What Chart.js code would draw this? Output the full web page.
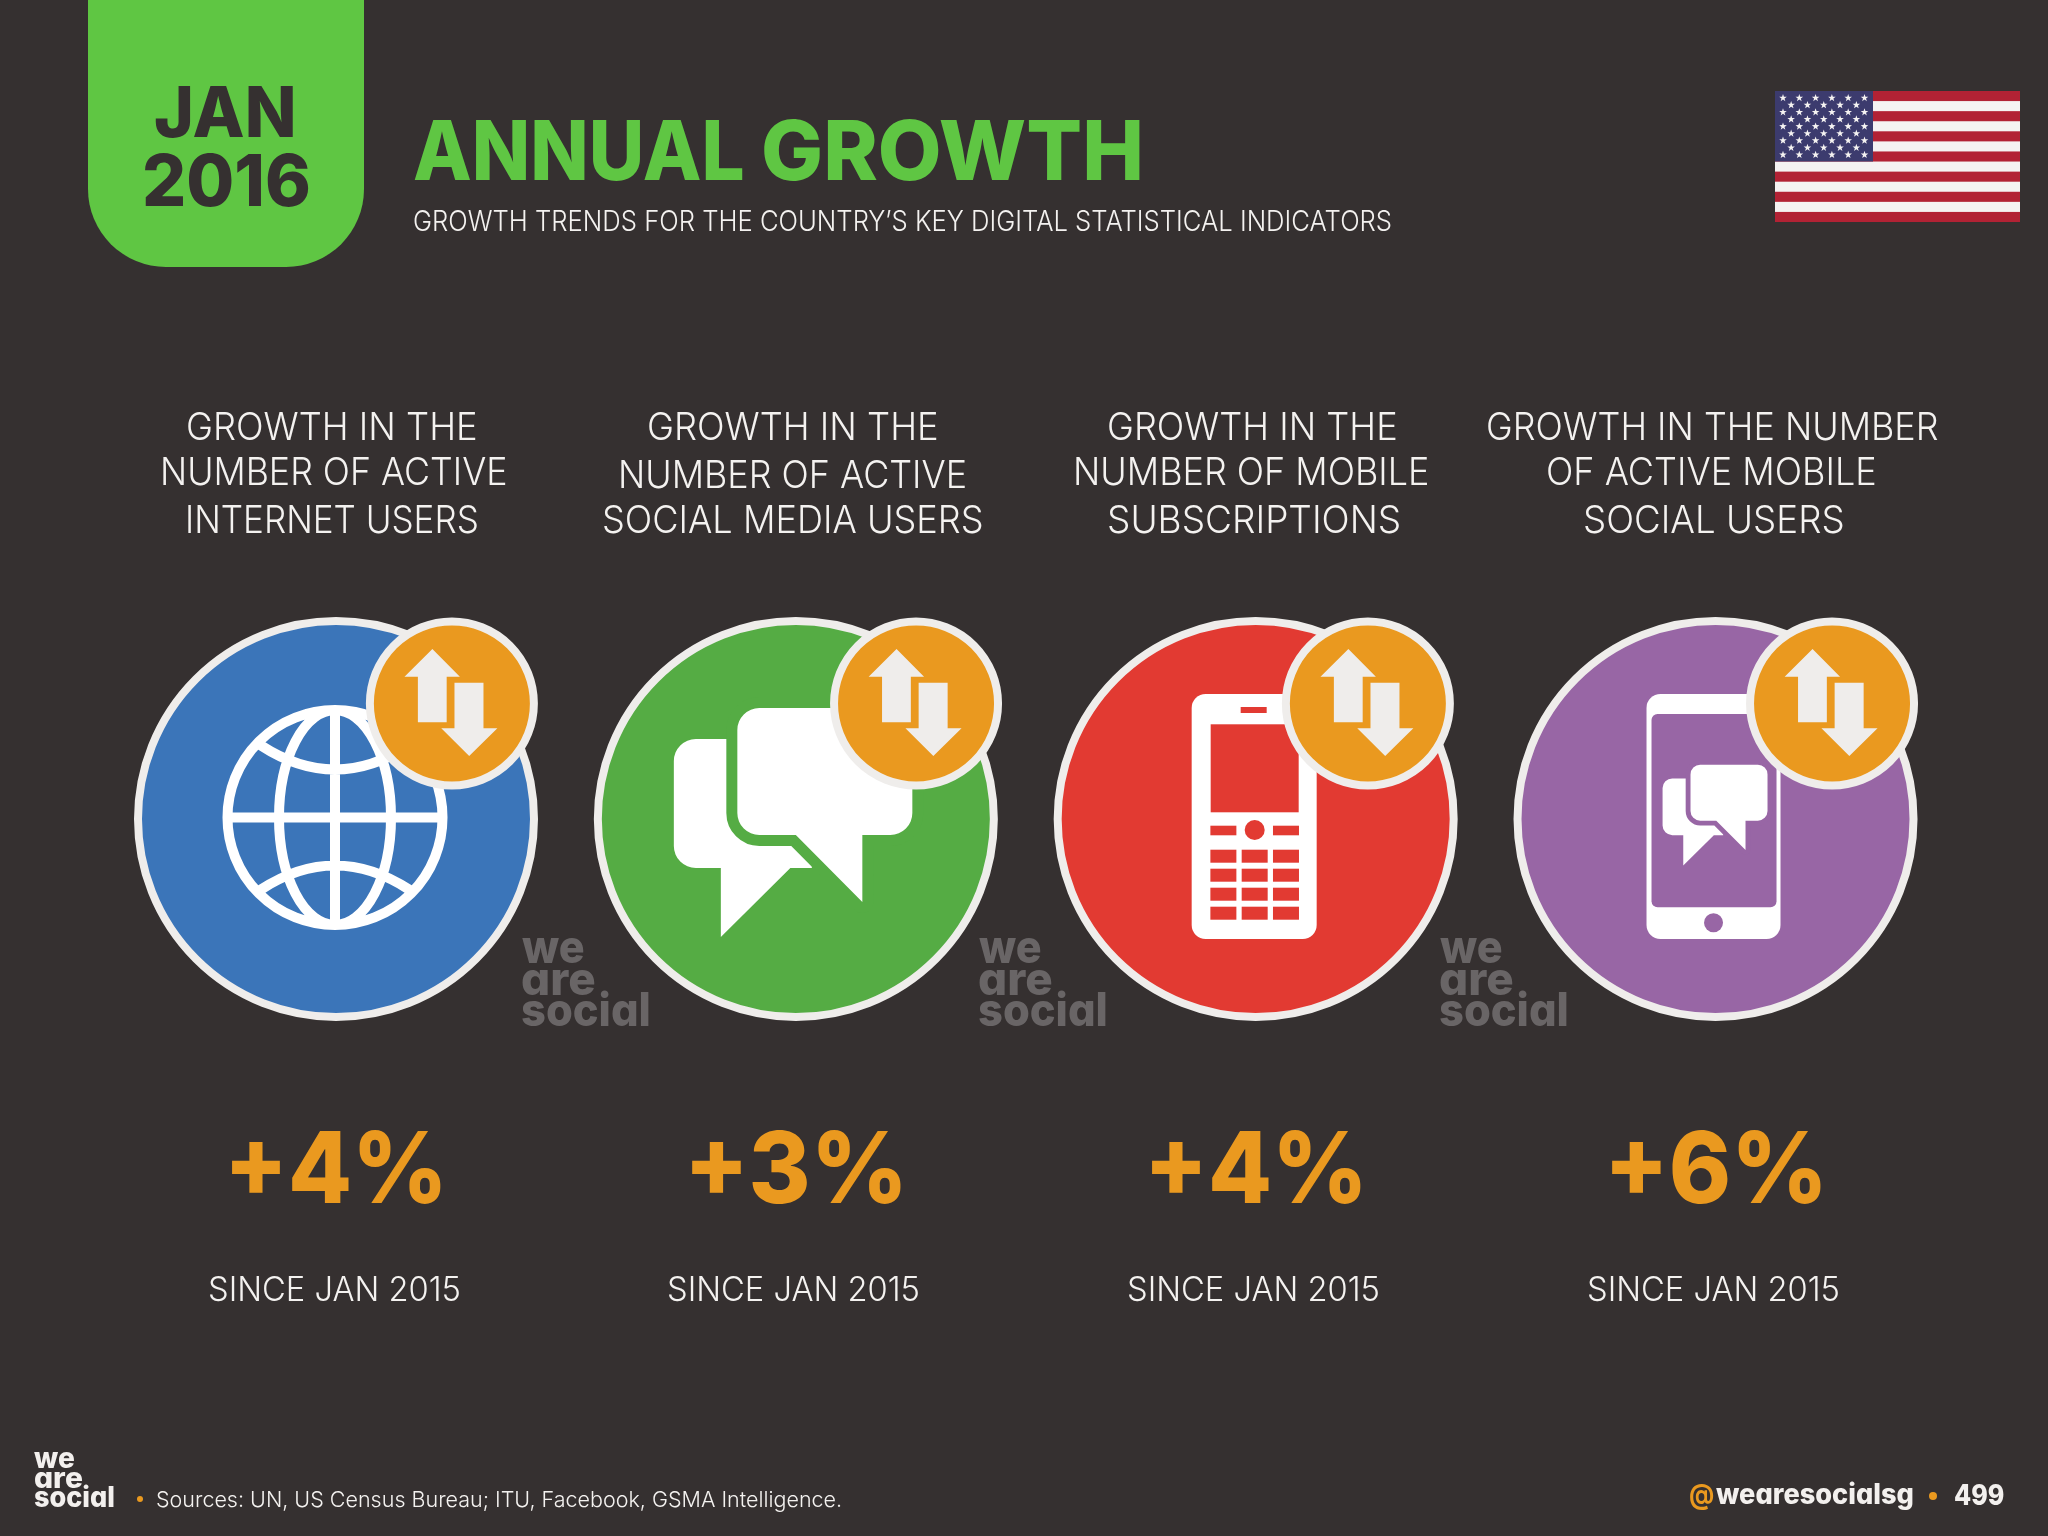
<!DOCTYPE html>
<html>
<head>
<meta charset="utf-8">
<title>Annual Growth</title>
<script src="https://cdn.jsdelivr.net/npm/chart.js@4"></script>
<style>
    html, body { margin: 0; padding: 0; background: #353030; }
    #page { position: relative; width: 2048px; height: 1536px; overflow: hidden; background: #353030; }
    #growth-chart { position: absolute; left: 0; top: 0; }
    #date-tab { position: absolute; left: 88px; top: -90px; width: 276px; height: 357px; background: #5fc643; border-radius: 78px; }
    #flag { position: absolute; left: 1775px; top: 91px; }
    .txt { position: absolute; white-space: nowrap; transform-origin: 0 0; }
</style>
</head>
<body>
<div id="page">
    <div id="date-tab"></div>
    <svg id="flag" width="245" height="131" viewBox="0 0 245 131"></svg>
    <canvas id="growth-chart" width="2048" height="1536" style="width:2048px;height:1536px"></canvas>
</div>
<script>
// Chart data
const indicators = [
    ['GROWTH IN THE', 'NUMBER OF ACTIVE', 'INTERNET USERS'],
    ['GROWTH IN THE', 'NUMBER OF ACTIVE', 'SOCIAL MEDIA USERS'],
    ['GROWTH IN THE', 'NUMBER OF MOBILE', 'SUBSCRIPTIONS'],
    ['GROWTH IN THE NUMBER', 'OF ACTIVE MOBILE', 'SOCIAL USERS']
];
const growthValues = [4, 3, 4, 6];
const sinceLabels = ['SINCE JAN 2015', 'SINCE JAN 2015', 'SINCE JAN 2015', 'SINCE JAN 2015'];
const columnIndex = [0, 1, 2, 3];

// Colours
const circleColors = ['#3b75b9', '#55ac44', '#e23a32', '#9866a5'];
const orange = '#ea991f';
const ringColor = '#efedeb';
const bgColor = '#353030';

const LIGHT = '"Inter", "Lato", sans-serif';
const HEAVY = '"Inter", "Liberation Sans", sans-serif';

// Badge offset from each big circle, in axis units
const badgeDx = [0.252, 0.2614, 0.244, 0.2534];
const badgeDy = 0.572;

const measure = document.createElement('canvas').getContext('2d');
const page = document.getElementById('page');

// Put a line of text so that its ink runs from x0 to x1 and it sits on the baseline
function addText(str, x0, x1, baseline, size, weight, color, family, extraCss) {
    const font = `${weight} ${size}px ${family}`;
    measure.font = font;
    const m = measure.measureText(str);
    const ascent = m.fontBoundingBoxAscent;
    const descent = m.fontBoundingBoxDescent;
    const lineHeight = Math.ceil(ascent + descent);
    const el = document.createElement('div');
    el.className = 'txt';
    el.textContent = str;
    el.style.font = font;
    el.style.lineHeight = lineHeight + 'px';
    el.style.color = color;
    if (extraCss) el.style.cssText += extraCss;
    page.appendChild(el);
    // DOM text can run a little wider than the canvas measure
    const domRatio = el.getBoundingClientRect().width / m.width;
    const inkLeft = m.actualBoundingBoxLeft * domRatio;
    const ink = (m.actualBoundingBoxLeft + m.actualBoundingBoxRight) * domRatio;
    const scale = (x1 - x0) / ink;
    el.style.left = (x0 + inkLeft * scale) + 'px';
    el.style.top = (baseline - (lineHeight - ascent - descent) / 2 - ascent) + 'px';
    el.style.transform = `scaleX(${scale})`;
}

function addCentered(str, center, width, baseline, size, weight, color, family, extraCss) {
    addText(str, center - width / 2, center + width / 2, baseline, size, weight, color, family, extraCss);
}

function addDot(x, y, r) {
    const el = document.createElement('div');
    el.style.cssText = `position:absolute;left:${x - r}px;top:${y - r}px;width:${2 * r}px;height:${2 * r}px;border-radius:50%;background:${orange}`;
    page.appendChild(el);
}

function addLogo(x, widths, baselines, size, color) {
    const cv = `font-feature-settings:"cv11";`;
    addText('we', x, x + widths[0], baselines[0], size, 800, color, HEAVY, cv);
    addText('are', x, x + widths[1], baselines[1], size, 800, color, HEAVY, cv);
    addText('social', x, x + widths[2], baselines[2], size, 800, color, HEAVY, cv);
}

// Icons, drawn relative to the centre of a big circle
function roundRect(ctx, x0, y0, x1, y1, r) {
    ctx.beginPath();
    ctx.roundRect(x0, y0, x1 - x0, y1 - y0, r);
}

function drawGlobe(ctx, cx, cy) {
    ctx.save();
    ctx.translate(cx - 1, cy - 1.5);
    ctx.strokeStyle = '#ffffff';
    ctx.lineWidth = 10;
    ctx.beginPath();
    ctx.arc(0, 0, 107.5, 0, Math.PI * 2);
    ctx.moveTo(0, -108);
    ctx.lineTo(0, 108);
    ctx.moveTo(-108, 0);
    ctx.lineTo(108, 0);
    ctx.moveTo(56, 0);
    ctx.ellipse(0, 0, 56, 107.5, 0, 0, Math.PI * 2);
    ctx.moveTo(-74, -72);
    ctx.quadraticCurveTo(0, -24, 74, -72);
    ctx.moveTo(-74, 72);
    ctx.quadraticCurveTo(0, 24, 74, 72);
    ctx.stroke();
    ctx.restore();
}

function frontBubble(ctx) {
    ctx.beginPath();
    ctx.roundRect(-58.5, -111, 175, 127, 22);
    ctx.moveTo(0, 16);
    ctx.lineTo(66.5, 83);
    ctx.lineTo(66.5, 16);
    ctx.closePath();
}

function drawChat(ctx, cx, cy, scale, color) {
    ctx.save();
    ctx.translate(cx, cy);
    ctx.scale(scale, scale);
    ctx.fillStyle = '#ffffff';
    // back bubble, square on the side that hides behind the front one
    ctx.beginPath();
    ctx.roundRect(-122, -80, 138, 129, [22, 0, 0, 22]);
    ctx.moveTo(-75, 49);
    ctx.lineTo(-75, 118);
    ctx.lineTo(-5.5, 49);
    ctx.closePath();
    ctx.fill();
    // front bubble with a gap around it
    frontBubble(ctx);
    ctx.strokeStyle = color;
    ctx.lineWidth = 22;
    ctx.lineJoin = 'round';
    ctx.stroke();
    ctx.fill();
    ctx.restore();
}

function drawPhone(ctx, cx, cy, color) {
    ctx.save();
    ctx.translate(cx - 1, cy);
    ctx.fillStyle = '#ffffff';
    roundRect(ctx, -63, -125, 62, 120, 14);
    ctx.fill();
    ctx.fillStyle = color;
    ctx.fillRect(-14, -112, 26, 6);
    ctx.fillRect(-44, -94.7, 88, 88);
    ctx.fillRect(-44.3, 6.7, 26, 9.6);
    ctx.fillRect(18.3, 6.7, 26, 9.6);
    ctx.beginPath();
    ctx.arc(0, 11, 10, 0, Math.PI * 2);
    ctx.fill();
    [-44.3, -13, 18.3].forEach((kx) => {
        [30.7, 49.7, 68.7, 87.7].forEach((ky) => ctx.fillRect(kx, ky, 26, 13));
    });
    ctx.restore();
}

function drawSmartphone(ctx, cx, cy, color) {
    ctx.save();
    ctx.translate(cx, cy);
    ctx.fillStyle = '#ffffff';
    roundRect(ctx, -69, -125, 65, 120, 14);
    ctx.fill();
    ctx.fillStyle = color;
    roundRect(ctx, -64, -105, 61, 88.3, 6);
    ctx.fill();
    ctx.beginPath();
    ctx.arc(-2, 103.7, 9.5, 0, Math.PI * 2);
    ctx.fill();
    ctx.restore();
    drawChat(ctx, cx + 0.74, cy - 5.4, 0.44, color);
}

function drawArrows(ctx, cx, cy) {
    ctx.save();
    ctx.translate(cx, cy);
    ctx.fillStyle = ringColor;
    ctx.beginPath();
    ctx.moveTo(-19.5, -54.5);
    ctx.lineTo(8, -26.8);
    ctx.lineTo(-5.2, -26.8);
    ctx.lineTo(-5.2, 18.8);
    ctx.lineTo(-34, 18.8);
    ctx.lineTo(-34, -26.8);
    ctx.lineTo(-47.4, -26.8);
    ctx.closePath();
    ctx.moveTo(17.3, 52.5);
    ctx.lineTo(45.5, 24.8);
    ctx.lineTo(31.6, 24.8);
    ctx.lineTo(31.6, -20.8);
    ctx.lineTo(2.6, -20.8);
    ctx.lineTo(2.6, 24.8);
    ctx.lineTo(-10.6, 24.8);
    ctx.closePath();
    ctx.fill();
    ctx.restore();
}

// Draw the icons between the two datasets, so the badges sit over them
const iconPlugin = {
    id: 'icons',
    afterDatasetDraw(chart, args) {
        const ctx = chart.ctx;
        const meta = chart.getDatasetMeta(args.index);
        meta.data.forEach((pt, i) => {
            if (args.index === 0) {
                if (i === 0) drawGlobe(ctx, pt.x, pt.y);
                if (i === 1) drawChat(ctx, pt.x, pt.y, 1, circleColors[1]);
                if (i === 2) drawPhone(ctx, pt.x, pt.y, circleColors[2]);
                if (i === 3) drawSmartphone(ctx, pt.x, pt.y, circleColors[3]);
            } else {
                drawArrows(ctx, pt.x, pt.y);
            }
        });
    }
};

const growthChart = new Chart(document.getElementById('growth-chart'), {
    type: 'scatter',
    plugins: [iconPlugin],
    data: {
        datasets: [
            {
                label: 'Indicators',
                data: columnIndex.map((i) => ({ x: i, y: 0 })),
                order: 2,
                clip: false,
                pointRadius: 198,
                pointBorderWidth: 8,
                pointBackgroundColor: circleColors,
                pointBorderColor: ringColor
            },
            {
                label: 'Trend badges',
                data: columnIndex.map((i) => ({ x: i + badgeDx[i], y: badgeDy })),
                order: 1,
                clip: false,
                pointRadius: 82,
                pointBorderWidth: 8,
                pointBackgroundColor: orange,
                pointBorderColor: ringColor
            }
        ]
    },
    options: {
        responsive: false,
        devicePixelRatio: 1,
        animation: false,
        events: [],
        layout: {
            // right padding can't go under the point overflow, so the axis stops at 3.1
            padding: { left: 336, right: 286.5, top: 617, bottom: 515 }
        },
        scales: {
            x: { type: 'linear', display: false, min: 0, max: 3.1 },
            y: { type: 'linear', display: false, min: -1, max: 1 }
        },
        plugins: {
            legend: { display: false },
            tooltip: { enabled: false }
        }
    }
});

// Text per column, placed from the chart's own x scale
const headerSpans = [
    [[188, 476], [163, 506], [188, 477]],
    [[648.5, 936.5], [621, 965.5], [603.5, 981]],
    [[1109, 1396], [1075.5, 1427.4], [1109, 1399]],
    [[1487.7, 1938], [1548, 1875], [1585, 1842.5]]
];
const headerBaselines = [[440, 485, 533], [440, 488, 533], [440, 485, 533], [440, 485, 533]];
const xScale = growthChart.scales.x;

columnIndex.forEach((i) => {
    const cx = xScale.getPixelForValue(i);
    indicators[i].forEach((line, n) => {
        const span = headerSpans[i][n];
        addText(line, span[0], span[1], headerBaselines[i][n], 38.5, 300, '#f4f2f0', LIGHT);
    });
    addCentered(`+${growthValues[i]}%`, cx + 0.5, 209, 1203, 99, 800, orange, HEAVY);
    addCentered(sinceLabels[i], cx - 2, 249, 1301, 34, 300, '#f4f2f0', LIGHT);
});

// Header
addText('JAN', 155, 293, 137, 70, 800, bgColor, HEAVY);
addText('2016', 145, 309, 206, 71, 800, bgColor, HEAVY);
addText('ANNUAL', 414, 743, 180, 83, 800, '#5fc643', HEAVY);
addText('GROWTH', 764, 1140, 180, 83, 800, '#5fc643', HEAVY);
addText('GROWTH TRENDS FOR THE COUNTRY\u2019S KEY DIGITAL STATISTICAL INDICATORS', 414, 1391, 231, 29, 300, '#f4f2f0', LIGHT);

// Watermarks
[522, 979, 1440].forEach((x) => addLogo(x, [62, 73, 127], [963, 995, 1026], 46, '#696566'));

// Footer
addLogo(34, [40, 48, 80], [1468, 1488, 1507], 28, '#f3f0ee');
addDot(140, 1499, 3);
addText('Sources: UN, US Census Bureau; ITU, Facebook, GSMA Intelligence.', 157, 841, 1507, 22, 300, '#f4f2f0', LIGHT);
addText('@', 1690, 1714, 1504, 28, 700, orange, HEAVY);
addText('wearesocialsg', 1716, 1913, 1504, 28, 800, '#f3f0ee', HEAVY, 'font-feature-settings:"cv11";');
addDot(1933, 1496, 4);
addText('499', 1955, 2004, 1505, 28, 800, '#f3f0ee', HEAVY);

// Flag
function buildFlag() {
    const svg = document.getElementById('flag');
    let out = '<rect width="245" height="131" fill="#f5f3f2"/>';
    for (let s = 0; s < 13; s += 2) {
        out += `<rect y="${s * 131 / 13}" width="245" height="${131 / 13}" fill="#b22234"/>`;
    }
    out += '<rect width="98" height="70.5" fill="#3c3b6e"/>';
    const star = (x, y) => {
        let pts = '';
        for (let k = 0; k < 10; k++) {
            const r = k % 2 ? 1.6 : 4;
            const a = -Math.PI / 2 + k * Math.PI / 5;
            pts += `${x + r * Math.cos(a)},${y + r * Math.sin(a)} `;
        }
        return `<polygon points="${pts}" fill="#f5f3f2"/>`;
    };
    for (let row = 0; row < 9; row++) {
        const n = row % 2 ? 5 : 6;
        for (let col = 0; col < n; col++) {
            out += star(8 + col * 16.3 + (row % 2 ? 8.15 : 0), 7 + row * 7.1);
        }
    }
    svg.innerHTML = out;
}
buildFlag();
</script>
</body>
</html>
